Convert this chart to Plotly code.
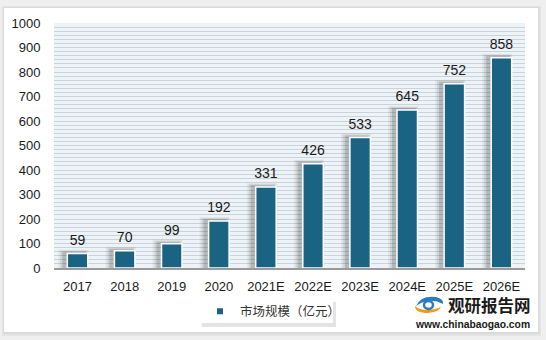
import plotly.graph_objects as go

# ---- data ----
categories = ["2017", "2018", "2019", "2020", "2021E", "2022E", "2023E", "2024E", "2025E", "2026E"]
values = [59, 70, 99, 192, 331, 426, 533, 645, 752, 858]
series_name = "市场规模（亿元）"
y_ticks = [0, 100, 200, 300, 400, 500, 600, 700, 800, 900, 1000]

# ---- layout geometry (pixels) ----
W, H = 546, 340
L, R, T, B = 54, 21, 23, 72
PW, PH = W - L - R, H - T - B
Y_MAX = 1000
BAR_COLOR = "#1b6383"
NUM_FONT = "Liberation Sans, Arial, sans-serif"
CJK_FONT = "Noto Sans CJK SC, sans-serif"


def xp(px):
    return (px - L) / PW


def yp(py):
    return (H - B - py) / PH


cat_px = PW / len(categories)
bar_w = 20.5 / cat_px
px_to_units = Y_MAX / PH

fig = go.Figure()

# soft drop shadow behind bars (layered translucent bars, shifted left)
for grow, up, alpha in [(6, 4, 0.05), (4, 3, 0.08), (2, 2, 0.13)]:
    left_px = -20.5 / 2 - 3 - grow
    right_px = 20.5 / 2 - 3 + grow * 0.6
    fig.add_trace(go.Bar(
        x=categories,
        y=[v + up * px_to_units for v in values],
        width=(right_px - left_px) / cat_px,
        offset=left_px / cat_px,
        marker=dict(color=f"rgba(0,0,0,{alpha})", line=dict(width=0)),
        showlegend=False, hoverinfo="skip",
    ))

# main bars
fig.add_trace(go.Bar(
    x=categories,
    y=values,
    width=bar_w,
    offset=-bar_w / 2,
    marker=dict(color=BAR_COLOR, line=dict(color="white", width=1.5)),
    showlegend=False,
    name=series_name,
))

# value labels above bars (invisible marker pushes the text up a little)
fig.add_trace(go.Scatter(
    x=categories,
    y=values,
    mode="markers+text",
    marker=dict(size=7, opacity=0),
    text=[str(v) for v in values],
    textposition="top center",
    textfont=dict(family=NUM_FONT, size=14, color="#1a1a1a"),
    cliponaxis=False,
    showlegend=False, hoverinfo="skip",
))

# legend entry (small square marker like the reference)
fig.add_trace(go.Scatter(
    x=[categories[0]], y=[None], mode="markers",
    marker=dict(symbol="square", size=6, color=BAR_COLOR),
    name=series_name, showlegend=True, hoverinfo="skip",
))

shapes = []
# page shadow + white panel
shapes.append(dict(type="rect", xref="paper", yref="paper",
                   x0=xp(2), x1=xp(541), y0=yp(6), y1=yp(336),
                   fillcolor="#e4e4e4", line=dict(width=0), layer="below"))
shapes.append(dict(type="rect", xref="paper", yref="paper",
                   x0=xp(3), x1=xp(539.5), y0=yp(7), y1=yp(334),
                   fillcolor="#dadada", line=dict(width=0), layer="below"))
shapes.append(dict(type="rect", xref="paper", yref="paper",
                   x0=xp(4), x1=xp(538), y0=yp(8), y1=yp(332),
                   fillcolor="white", line=dict(width=0), layer="below"))
# plot background
shapes.append(dict(type="rect", xref="paper", yref="paper",
                   x0=0, x1=1, y0=0, y1=1,
                   fillcolor="#eef3f7", line=dict(width=0), layer="below"))
# legend box with shadow
shapes.append(dict(type="rect", xref="paper", yref="paper",
                   x0=xp(202), x1=xp(336), y0=yp(302), y1=yp(327),
                   fillcolor="#e4e4e4", line=dict(width=0), layer="below"))
shapes.append(dict(type="rect", xref="paper", yref="paper",
                   x0=xp(200), x1=xp(333), y0=yp(300), y1=yp(323),
                   fillcolor="white", line=dict(width=0), layer="below"))
# logo icon (simple swirl)
shapes.append(dict(type="path", xref="paper", yref="paper",
                   path=(f"M {xp(416)},{yp(306)} Q {xp(421)},{yp(295)} {xp(436)},{yp(297)} "
                         f"Q {xp(444)},{yp(299)} {xp(443)},{yp(304)} "
                         f"Q {xp(436)},{yp(300)} {xp(428)},{yp(301)} "
                         f"Q {xp(421)},{yp(302)} {xp(416)},{yp(306)} Z"),
                   fillcolor="#2a7bbf", line=dict(width=0), layer="above"))
shapes.append(dict(type="path", xref="paper", yref="paper",
                   path=(f"M {xp(415)},{yp(306)} Q {xp(415)},{yp(313)} {xp(428)},{yp(313)} "
                         f"Q {xp(439)},{yp(312)} {xp(441)},{yp(307)} "
                         f"Q {xp(435)},{yp(310)} {xp(428)},{yp(310)} "
                         f"Q {xp(419)},{yp(310)} {xp(415)},{yp(306)} Z"),
                   fillcolor="#f39a1e", line=dict(width=0), layer="above"))
shapes.append(dict(type="circle", xref="paper", yref="paper",
                   x0=xp(424), x1=xp(433), y0=yp(301), y1=yp(309),
                   fillcolor="white", line=dict(color="#2a7bbf", width=2.5), layer="above"))

annotations = [
    dict(text="<b>观研报告网</b>", xref="paper", yref="paper",
         x=xp(446), y=yp(305), xanchor="left", yanchor="middle",
         showarrow=False, font=dict(family=CJK_FONT, size=16.5, color="#1a1a1a")),
    dict(text="<b>www.chinabaogao.com</b>", xref="paper", yref="paper",
         x=xp(472.5), y=yp(324.5), xanchor="center", yanchor="middle",
         showarrow=False, font=dict(family=NUM_FONT, size=10.3, color="#1a1a1a")),
]

fig.update_layout(
    width=W, height=H,
    margin=dict(l=L, r=R, t=T, b=B, pad=0),
    paper_bgcolor="#efefef",
    plot_bgcolor="rgba(0,0,0,0)",
    barmode="overlay",
    shapes=shapes,
    annotations=annotations,
    showlegend=True,
    legend=dict(
        x=xp(200), y=yp(311.5), xanchor="left", yanchor="middle",
        orientation="h", bgcolor="rgba(0,0,0,0)",
        font=dict(family=CJK_FONT, size=12.5, color="#333333"),
        itemwidth=30, borderwidth=0,
    ),
    xaxis=dict(
        type="category",
        categoryorder="array", categoryarray=categories,
        range=[-0.5, len(categories) - 0.5],
        showgrid=False, zeroline=False,
        showline=True, linecolor="#9a9a9a", linewidth=1.5,
        ticks="outside", ticklen=6, tickcolor="rgba(0,0,0,0)",
        tickfont=dict(family=NUM_FONT, size=13, color="#1a1a1a"),
        fixedrange=True,
    ),
    yaxis=dict(
        range=[0, Y_MAX],
        tickmode="array", tickvals=y_ticks, ticktext=[str(t) for t in y_ticks],
        showgrid=True, gridcolor="#c9d3dc", gridwidth=1,
        minor=dict(dtick=100 / 6, showgrid=True, gridcolor="#c9d3dc", gridwidth=1),
        zeroline=False, showline=False,
        ticks="outside", ticklen=10, tickcolor="rgba(0,0,0,0)",
        tickfont=dict(family=NUM_FONT, size=13, color="#1a1a1a"),
        fixedrange=True,
    ),
)

fig.write_html("out.html", config={"displayModeBar": False})
